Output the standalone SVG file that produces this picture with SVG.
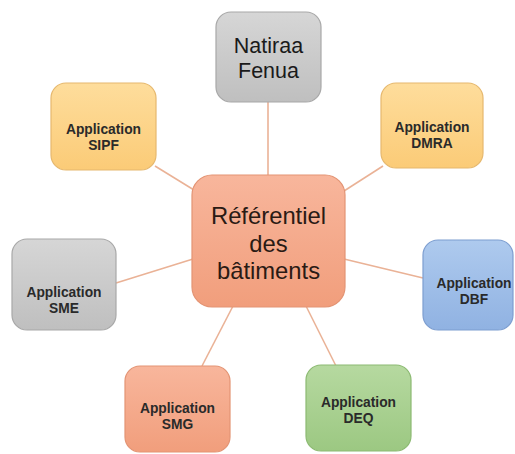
<svg xmlns="http://www.w3.org/2000/svg" width="515" height="454" viewBox="0 0 515 454">
<style>
.n{stroke-width:1.2}
.t{font-family:"Liberation Sans",Arial,sans-serif;font-weight:bold;font-size:13.8px;fill:#2a2a2a;text-anchor:middle}
.big{font-family:"Liberation Sans",Arial,sans-serif;font-size:23.8px;fill:#2a1a14;text-anchor:middle}
.mid{font-family:"Liberation Sans",Arial,sans-serif;font-size:21.5px;fill:#1a1a1a;text-anchor:middle}
#connectors line{stroke:#eab296;stroke-width:1.6}
</style>
<defs>
<linearGradient id="gGrey" x1="0" y1="0" x2="0" y2="1"><stop offset="0" stop-color="#d6d6d6"/><stop offset="1" stop-color="#bfbfbf"/></linearGradient>
<linearGradient id="gYel" x1="0" y1="0" x2="0" y2="1"><stop offset="0" stop-color="#fedd9c"/><stop offset="1" stop-color="#fbcb77"/></linearGradient>
<linearGradient id="gSal" x1="0" y1="0" x2="0" y2="1"><stop offset="0" stop-color="#f8b69c"/><stop offset="1" stop-color="#f19e7c"/></linearGradient>
<linearGradient id="gBlue" x1="0" y1="0" x2="0" y2="1"><stop offset="0" stop-color="#aecaee"/><stop offset="1" stop-color="#90b2e2"/></linearGradient>
<linearGradient id="gGreen" x1="0" y1="0" x2="0" y2="1"><stop offset="0" stop-color="#b6d9a0"/><stop offset="1" stop-color="#9cc882"/></linearGradient>
</defs>
<rect width="515" height="454" fill="#ffffff"/>
<g id="connectors">
<line x1="268" y1="102" x2="268" y2="176"/>
<line x1="155" y1="166" x2="194" y2="190"/>
<line x1="383" y1="166" x2="344" y2="191"/>
<line x1="116" y1="283" x2="193" y2="259"/>
<line x1="344" y1="259" x2="423" y2="278"/>
<line x1="233" y1="306" x2="202" y2="366"/>
<line x1="306" y1="306" x2="336" y2="366"/>
</g>
<g id="natiraa">
<rect class="n" x="216" y="12" width="105" height="90" rx="15" fill="url(#gGrey)" stroke="#a8a8a8"/>
<text class="mid" x="268.5" y="53">Natiraa</text>
<text class="mid" x="268.5" y="78">Fenua</text>
</g>
<g id="sipf">
<rect class="n" x="51" y="83" width="105" height="87" rx="15" fill="url(#gYel)" stroke="#e6b86e"/>
<text class="t" x="103.5" y="134">Application</text>
<text class="t" x="103.5" y="150">SIPF</text>
</g>
<g id="dmra">
<rect class="n" x="381" y="83" width="102" height="85" rx="15" fill="url(#gYel)" stroke="#e6b86e"/>
<text class="t" x="432" y="132">Application</text>
<text class="t" x="432" y="148">DMRA</text>
</g>
<g id="referentiel">
<rect class="n" x="192" y="175" width="153" height="132" rx="20" fill="url(#gSal)" stroke="#e39474"/>
<text class="big" x="268.5" y="224">Référentiel</text>
<text class="big" x="268.5" y="251.5">des</text>
<text class="big" x="268.5" y="279">bâtiments</text>
</g>
<g id="sme">
<rect class="n" x="12" y="239" width="104" height="91" rx="15" fill="url(#gGrey)" stroke="#a8a8a8"/>
<text class="t" x="64" y="297">Application</text>
<text class="t" x="64" y="313">SME</text>
</g>
<g id="dbf">
<rect class="n" x="423" y="240" width="90" height="90" rx="15" fill="url(#gBlue)" stroke="#7d9ed0"/>
<text class="t" x="474" y="288">Application</text>
<text class="t" x="474" y="304">DBF</text>
</g>
<g id="smg">
<rect class="n" x="125" y="366" width="105" height="86" rx="15" fill="url(#gSal)" stroke="#e39474"/>
<text class="t" x="177.5" y="413">Application</text>
<text class="t" x="177.5" y="429">SMG</text>
</g>
<g id="deq">
<rect class="n" x="306" y="365" width="105" height="86" rx="15" fill="url(#gGreen)" stroke="#8cba72"/>
<text class="t" x="358.5" y="407">Application</text>
<text class="t" x="358.5" y="423">DEQ</text>
</g>
</svg>
